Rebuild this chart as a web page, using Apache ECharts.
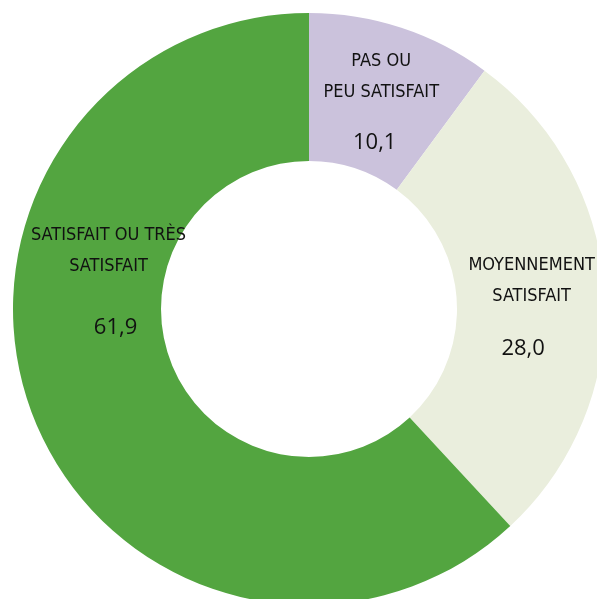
<!DOCTYPE html>
<html>
<head>
<meta charset="utf-8">
<script src="https://cdn.jsdelivr.net/npm/echarts@6/dist/echarts.min.js"></script>
<style>
  html, body { margin: 0; padding: 0; background: #fff; }
  #chart { width: 597px; height: 599px; }
</style>
</head>
<body>
<div id="chart"></div>
<script>
// données
const categories = ['PAS OU\nPEU SATISFAIT', 'MOYENNEMENT\nSATISFAIT', 'SATISFAIT OU TRÈS\nSATISFAIT'];
const values = [10.1, 28.0, 61.9];
const colors = ['#cbc2dc', '#eaeedd', '#53a540'];

// décalage des étiquettes (dx, dy) par rapport à la position "inside"
const labelShift = [[2, 17], [-2, 21], [9, -94]];

const chart = echarts.init(document.getElementById('chart'));

const option = {
  animation: false,
  series: [
    {
      type: 'pie',
      center: [309, 309],
      radius: [148, 296],
      startAngle: 90,
      clockwise: true,
      silent: true,
      data: categories.map((name, i) => ({
        name: name,
        value: values[i],
        itemStyle: { color: colors[i] }
      })),
      itemStyle: { borderWidth: 0 },
      labelLine: { show: false },
      label: {
        show: true,
        position: 'inside',
        rotate: 0,
        color: '#111',
        formatter: function (p) {
          const lines = p.name.split('\n').map((l) => '{n|' + l + '}')
          return lines.join('\n') + '\n{v' + p.dataIndex + '|' + p.value.toFixed(1).replace('.', ',') + '}'
        },
        rich: {
          n: {
            fontFamily: '"Liberation Sans Narrow", "DejaVu Sans Condensed", sans-serif',
            fontSize: 18,
            lineHeight: 31,
            color: '#111'
          },
          v0: {
            fontFamily: '"Open Sans", sans-serif',
            fontSize: 22,
            lineHeight: 71,
            color: '#111',
            padding: [0, 13, 0, 0]
          },
          v1: {
            fontFamily: '"Open Sans", sans-serif',
            fontSize: 22,
            lineHeight: 73,
            color: '#111',
            padding: [0, 17, 0, 0]
          },
          v2: {
            fontFamily: '"Open Sans", sans-serif',
            fontSize: 22,
            lineHeight: 93,
            color: '#111',
            padding: [0, 0, 0, 14]
          }
        }
      },
      labelLayout: function (params) {
        const s = labelShift[params.dataIndex]
        return { dx: s[0], dy: s[1] }
      }
    }
  ]
};

chart.setOption(option);
</script>
</body>
</html>
